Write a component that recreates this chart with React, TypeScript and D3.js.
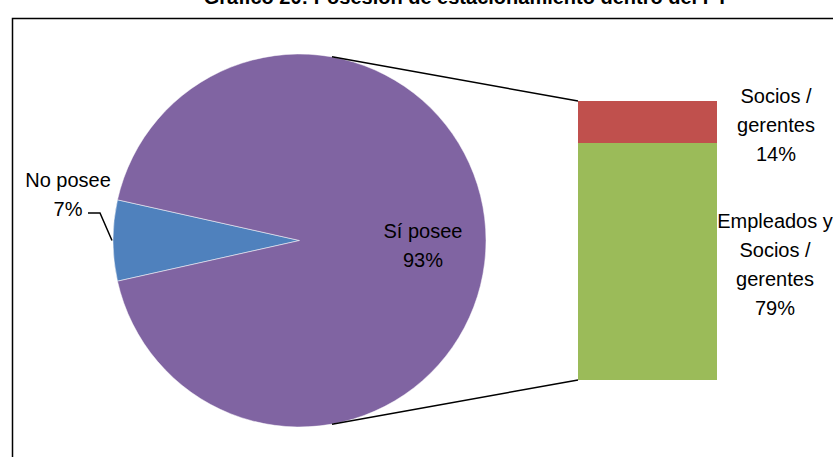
import React, { useEffect, useRef } from "react";
import * as d3 from "d3";

// main pie
const pieLabels = ["No posee", "Sí posee"];
const pieValues = [7, 93];
const pieColors = ["#4F81BD", "#8064A2"];

// breakdown bar (bottom to top)
const barLabels = [["Empleados y", "Socios /", "gerentes"], ["Socios /", "gerentes"]];
const barValues = [79, 14];
const barColors = ["#9BBB59", "#C0504D"];

const title = "Gráfico 20: Posesión de estacionamiento dentro del PT";

export default function App() {
  const svgRef = useRef<SVGSVGElement>(null);

  useEffect(() => {
    if (!svgRef.current) return;
    const width = 833;
    const height = 457;
    const svg = d3.select(svgRef.current);
    svg.selectAll("*").remove();
    svg.attr("viewBox", `0 0 ${width} ${height}`);

    const font = "'Liberation Sans', Arial, sans-serif";

    svg.append("rect").attr("width", width).attr("height", height).attr("fill", "#fff");

    // title, mostly cut off at the top (as in the source)
    svg
      .append("text")
      .attr("x", 466)
      .attr("y", 4)
      .attr("text-anchor", "middle")
      .style("font-family", font)
      .style("font-weight", "bold")
      .style("font-size", "20px")
      .style("fill", "#000")
      .text(title);

    // chart frame
    svg
      .append("rect")
      .attr("x", 12.5)
      .attr("y", 18.5)
      .attr("width", 900)
      .attr("height", 500)
      .attr("fill", "none")
      .attr("stroke", "#000")
      .attr("stroke-width", 1.5);

    // pie
    const cx = 299.5;
    const cy = 240.5;
    const r = 186.5;
    const total = d3.sum(pieValues);
    const start = (3 * Math.PI) / 2 - (Math.PI * pieValues[0]) / total;
    const pie = d3
      .pie<number>()
      .sort(null)
      .startAngle(start)
      .endAngle(start + 2 * Math.PI);
    const arcs = pie(pieValues);
    const arc = d3.arc<d3.PieArcDatum<number>>().innerRadius(0).outerRadius(r);

    const g = svg.append("g").attr("transform", `translate(${cx},${cy})`);
    g.selectAll("path")
      .data(arcs)
      .join("path")
      .attr("d", arc)
      .attr("fill", (_, i) => pieColors[i])
      .attr("stroke", "#fff")
      .attr("stroke-width", 0.5);

    const polar = (a: number, rad: number) => [cx + rad * Math.sin(a), cy - rad * Math.cos(a)];

    // bar of pie
    const bx = 578;
    const bw = 139;
    const y = d3.scaleLinear().domain([0, d3.sum(barValues)]).range([380, 101]);
    let acc = 0;
    barValues.forEach((v, i) => {
      svg
        .append("rect")
        .attr("x", bx)
        .attr("y", y(acc + v))
        .attr("width", bw)
        .attr("height", y(acc) - y(acc + v))
        .attr("fill", barColors[i]);
      acc += v;
    });

    // connector lines
    const connAngle = 0.175;
    const [tx, ty] = polar(connAngle, r);
    const [lx, ly] = polar(Math.PI - connAngle, r);
    svg.append("line").attr("x1", tx).attr("y1", ty).attr("x2", bx).attr("y2", y(d3.sum(barValues)))
      .attr("stroke", "#000").attr("stroke-width", 1.5);
    svg.append("line").attr("x1", lx).attr("y1", ly).attr("x2", bx).attr("y2", y(0))
      .attr("stroke", "#000").attr("stroke-width", 1.5);

    const lineH = 29;
    const drawLabel = (x: number, yMid: number, lines: string[]) => {
      const t = svg
        .append("text")
        .attr("text-anchor", "middle")
        .style("font-family", font)
        .style("font-size", "20px")
        .style("fill", "#000");
      const y0 = yMid - ((lines.length - 1) * lineH) / 2;
      lines.forEach((l, i) => {
        t.append("tspan").attr("x", x).attr("y", y0 + i * lineH).attr("dy", "0.35em").text(l);
      });
    };

    const pct = (v: number) => `${Math.round((v / total) * 100)}%`;

    // Sí posee label inside slice
    drawLabel(423, 245, [pieLabels[1], pct(pieValues[1])]);

    // No posee label with leader
    drawLabel(68, 194, [pieLabels[0], pct(pieValues[0])]);
    const mid = (arcs[0].startAngle + arcs[0].endAngle) / 2;
    const [ex, ey] = polar(mid, r + 1);
    svg
      .append("path")
      .attr("d", d3.line()([[88, 213], [100, 213], [ex, ey]]))
      .attr("fill", "none")
      .attr("stroke", "#000")
      .attr("stroke-width", 1.5);

    // bar labels
    drawLabel(776, 125, [...barLabels[1], pct(barValues[1])]);
    drawLabel(775, 264, [...barLabels[0], pct(barValues[0])]);
  }, []);

  return (
    <svg
      ref={svgRef}
      width={833}
      height={457}
      style={{ position: "absolute", left: 0, top: 0, display: "block" }}
    />
  );
}
